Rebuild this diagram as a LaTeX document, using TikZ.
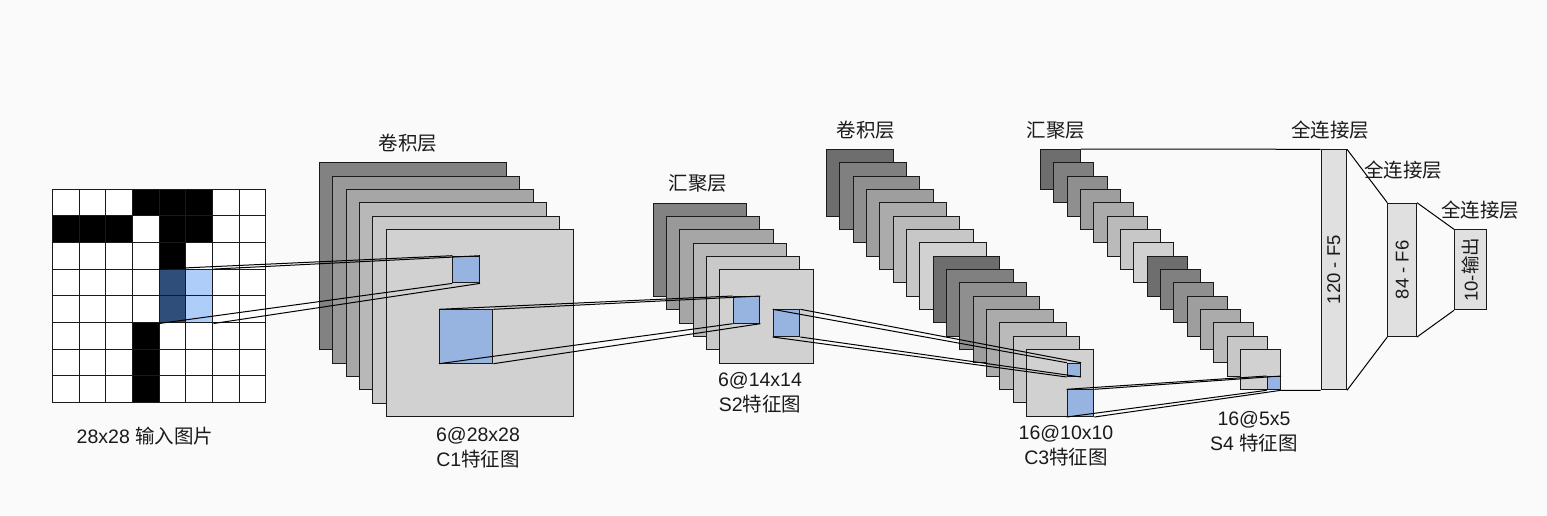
\documentclass[tikz,border=0pt]{standalone}
\usepackage{fontspec}
\setmainfont{Liberation Sans}
\newfontfamily\cjk{Noto Sans CJK SC}
\newcommand\zh[1]{{\cjk #1}}
\usetikzlibrary{positioning}
\definecolor{bg}{HTML}{FAFAFA}
\definecolor{sel}{HTML}{97B3E0}
\definecolor{hilite}{HTML}{5E9CF5}
\definecolor{fc}{HTML}{E0E0E0}
\definecolor{ink}{HTML}{1A1A1A}
\tikzset{
  fmap/.style={draw=ink, line width=1pt, inner sep=0pt, anchor=north west, minimum size=#1},
  selbox/.style={fmap=#1, fill=sel},
  fcbox/.style={draw=ink, line width=1pt, fill=fc, inner sep=0pt, anchor=north west, text=ink, font=\fontsize{18.5}{20}\selectfont},
  link/.style={draw=black, line width=1pt},
  lbl/.style={font=\fontsize{19.5}{25}\selectfont, text=ink, align=center},
  cell/.style={draw=ink, line width=1pt}
}
\newcommand\frustum[2]{\foreach \cn in {north west,north east,south west,south east}{\draw[link] (#1.\cn) -- (#2.\cn);}}

\begin{document}
\begin{tikzpicture}[x=1pt,y=-1pt]
\useasboundingbox[fill=bg] (0,0) rectangle (1547,515);

% input picture
\fill[white] (52.3,189) rectangle ++(213.6,213.6);
\foreach \c/\r in {3/0,4/0,5/0,0/1,1/1,2/1,4/1,5/1,4/2,4/3,4/4,3/5,3/6,3/7}
  \fill[black] (52.3+\c*26.7,189+\r*26.7) rectangle ++(26.7,26.7);
\node[fmap=53.4pt, draw=none, fill=hilite, fill opacity=0.5] (inpatch) at (159.1,269.1) {};
\foreach \k in {0,...,8}{
  \draw[cell] (52.3+\k*26.7,189) -- ++(0,213.6);
  \draw[cell] (52.3,189+\k*26.7) -- ++(213.6,0);
}

% C1
\foreach \p [count=\i from 0] in {49,40,35,28,21,18}
  \node[fmap=187pt, fill=black!\p] (c1-\i) at (319+\i*13.33,162.3+\i*13.33) {};
\node[selbox=26.7pt] (c1a) at (452.3,255.7) {};
\node[selbox=53.4pt] (c1b) at (439,309.3) {};

% S2
\foreach \p [count=\i from 0] in {49,40,35,28,21,18}
  \node[fmap=93.3pt, fill=black!\p] (s2-\i) at (652.7+\i*13.33,202.7+\i*13.33) {};
\node[selbox=26.7pt] (s2a) at (732.7,296) {};
\node[selbox=26.7pt] (s2b) at (772.7,309.3) {};

% C3
\foreach \p [count=\i from 0] in {57,50,44,38,33,27,22,18,57,50,44,38,33,27,22,18}
  \node[fmap=66.7pt, fill=black!\p] (c3-\i) at (826+\i*13.33,149+\i*13.33) {};
\node[selbox=13.3pt] (c3a) at (1066.7,362.7) {};
\node[selbox=26.7pt] (c3b) at (1066.7,389.3) {};

% S4
\foreach \p [count=\i from 0] in {57,50,44,38,33,27,22,18,57,50,44,38,33,27,22,18}
  \node[fmap=40pt, fill=black!\p] (s4-\i) at (1040+\i*13.33,149+\i*13.33) {};
\node[selbox=13.3pt] (s4a) at (1266.7,376) {};

% full layers
\node[fcbox, minimum width=25.3pt, minimum height=240pt] (f5) at (1320.7,149.3) {\rotatebox{90}{120 - F5}};
\node[fcbox, minimum width=28.7pt, minimum height=133.3pt] (f6) at (1387.3,202.7) {\rotatebox{90}{84 - F6}};
\node[fcbox, minimum width=32pt, minimum height=80pt] (out) at (1454,229.3) {\rotatebox{90}{10-\zh{输出}}};

% links
\frustum{inpatch}{c1a}
\frustum{c1b}{s2a}
\frustum{s2b}{c3a}
\frustum{c3b}{s4a}
\draw[link] (s4-0.north east) -- (f5.north west);
\draw[link] (s4a.south east) -- (f5.south west);
\draw[link] (f5.north east) -- (f6.north west);
\draw[link] (f5.south east) -- (f6.south west);
\draw[link] (f6.north east) -- (out.north west);
\draw[link] (f6.south east) -- (out.south west);

% labels
\node[lbl] (t-in) at (145,436) {28x28 \zh{输入图片}};
\node[lbl] (t-c1) at (408,143) {\zh{卷积层}};
\node[lbl] (t-c1n) at (478,447.5) {6@28x28\\C1\zh{特征图}};
\node[lbl] (t-s2) at (698,183) {\zh{汇聚层}};
\node[lbl] (t-s2n) at (760,392.5) {6@14x14\\S2\zh{特征图}};
\node[lbl] (t-c3) at (866,130) {\zh{卷积层}};
\node[lbl] (t-c3n) at (1066,445.5) {16@10x10\\C3\zh{特征图}};
\node[lbl] (t-s4) at (1056,130) {\zh{汇聚层}};
\node[lbl] (t-s4n) at (1254,431.5) {16@5x5\\S4 \zh{特征图}};
\node[lbl] (t-f5) at (1330,130) {\zh{全连接层}};
\node[lbl] (t-f6) at (1403,170) {\zh{全连接层}};
\node[lbl] (t-out) at (1480,210) {\zh{全连接层}};
\end{tikzpicture}
\end{document}
